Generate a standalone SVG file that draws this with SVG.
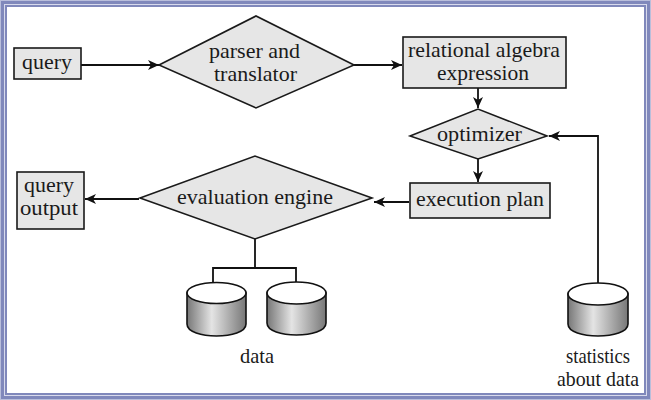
<svg xmlns="http://www.w3.org/2000/svg" width="651" height="400" viewBox="0 0 651 400">
<style>
text{font-family:"Liberation Serif","Times New Roman",serif;font-size:21px;fill:#1a1a1a;text-anchor:middle}
.n{fill:#e6e6e6;stroke:#1a1a1a;stroke-width:1.6}
.c{fill:none;stroke:#111;stroke-width:1.8}
.a{marker-end:url(#arr)}
.t{fill:#fff;stroke:#111;stroke-width:1.6}
.b{fill:url(#cyl);stroke:#111;stroke-width:1.6}
</style>
<defs>
<marker id="arr" markerUnits="userSpaceOnUse" markerWidth="12" markerHeight="10" refX="11" refY="5" orient="auto"><path d="M0 0L11 5L0 10L3 5Z" fill="#111"/></marker>
<linearGradient id="cyl"><stop offset="0" stop-color="#777"/><stop offset=".42" stop-color="#e4e4e4"/><stop offset="1" stop-color="#777"/></linearGradient>
</defs>
<rect width="651" height="400" fill="#fff"/>
<rect x="3.500" y="3.500" width="644" height="393" fill="none" stroke="#8088bb" stroke-width="7"/>
<rect x="0.500" y="0.500" width="650" height="399" fill="none" stroke="#b9bedb" stroke-width="1"/>
<rect x="4.500" y="4.500" width="642" height="391" fill="none" stroke="#d8daec" stroke-width="1"/>
<g id="connectors">
<path class="c a" d="M81 65H159"/>
<path class="c a" d="M354 65H402"/>
<path class="c a" d="M478 88V108"/>
<path class="c a" d="M478 159V182"/>
<path class="c a" d="M598 283V136H549"/>
<path class="c a" d="M409 202H374"/>
<path class="c a" d="M139 199H85"/>
<path class="c" d="M255 239V268M213 283V268H296V282"/>
</g>
<g id="query"><rect class="n" x="14" y="48" width="67" height="31"/><text x="47" y="69" textLength="50" lengthAdjust="spacingAndGlyphs">query</text></g>
<g id="parser"><polygon class="n" points="159,65 256,16 354,65 256,108"/><text x="254.500" y="58" textLength="91" lengthAdjust="spacingAndGlyphs">parser and</text><text x="255.500" y="81" textLength="83" lengthAdjust="spacingAndGlyphs">translator</text></g>
<g id="relational"><rect class="n" x="403" y="37" width="163" height="51"/><text x="484" y="57" textLength="152" lengthAdjust="spacingAndGlyphs">relational algebra</text><text x="483" y="80" textLength="92" lengthAdjust="spacingAndGlyphs">expression</text></g>
<g id="optimizer"><polygon class="n" points="410,136 478,109 547,136 478,159"/><text x="479.500" y="141" textLength="85" lengthAdjust="spacingAndGlyphs">optimizer</text></g>
<g id="plan"><rect class="n" x="410" y="183" width="140" height="35"/><text x="480" y="206" textLength="128" lengthAdjust="spacingAndGlyphs">execution plan</text></g>
<g id="engine"><polygon class="n" points="140,198 255,156 372,198 255,239"/><text x="255" y="204" textLength="156" lengthAdjust="spacingAndGlyphs">evaluation engine</text></g>
<g id="output"><rect class="n" x="17" y="172" width="67" height="57"/><text x="49" y="192" textLength="50" lengthAdjust="spacingAndGlyphs">query</text><text x="49" y="215" textLength="58" lengthAdjust="spacingAndGlyphs">output</text></g>
<g id="db1"><path class="b" d="M187 293V324C187 340 246 340 246 324V293Z"/><ellipse class="t" cx="216.500" cy="293" rx="29.500" ry="10.500"/></g>
<g id="db2"><path class="b" d="M267 293V323C267 339 326 339 326 323V293Z"/><ellipse class="t" cx="296.500" cy="293" rx="29.500" ry="11"/></g>
<text x="257" y="363" textLength="34" lengthAdjust="spacingAndGlyphs">data</text>
<g id="stats"><path class="b" d="M568 294V324C568 340 628 340 628 324V294Z"/><ellipse class="t" cx="598" cy="294" rx="30" ry="11"/></g>
<text x="598" y="363" textLength="64" lengthAdjust="spacingAndGlyphs">statistics</text><text x="598" y="386" textLength="82" lengthAdjust="spacingAndGlyphs">about data</text>
</svg>
